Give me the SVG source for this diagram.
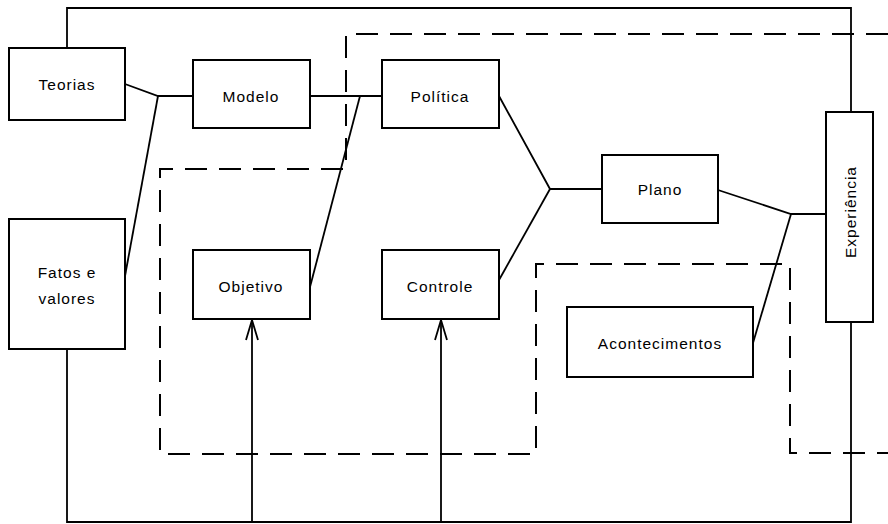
<svg xmlns="http://www.w3.org/2000/svg" width="888" height="524" viewBox="0 0 888 524">
<style>
.box{fill:#fff;stroke:#000;stroke-width:2}
.ln{fill:none;stroke:#000;stroke-width:1.8}
.dash{fill:none;stroke:#000;stroke-width:2;stroke-dasharray:22 12}
text{font-family:"Liberation Sans",Arial,sans-serif;font-size:15.5px;letter-spacing:1px;fill:#000;text-anchor:middle;dominant-baseline:central}
</style>
<defs>
<marker id="arr" markerWidth="24" markerHeight="16" refX="21" refY="8" orient="auto" markerUnits="userSpaceOnUse" viewBox="0 0 24 16">
<path d="M1,2 L21,8 L1,14" fill="none" stroke="#000" stroke-width="1.8"/>
</marker>
</defs>
<g id="regions">
<polyline class="dash" points="888,34 346,34 346,169 160,169 160,454 536,454 536,264 790,264 790,453 888,453"/>
</g>
<g id="connectors">
<polyline class="ln" points="67,48 67,8 851,8 851,112"/>
<polyline class="ln" points="67,349 67,522 851,522 851,322"/>
<polyline class="ln" points="125,84 158,96 193,96"/>
<line class="ln" x1="158" y1="96" x2="125" y2="276"/>
<line class="ln" x1="310" y1="96" x2="382" y2="96"/>
<line class="ln" x1="360" y1="96" x2="310" y2="287"/>
<polyline class="ln" points="499,96 550,189 602,189"/>
<line class="ln" x1="550" y1="189" x2="499" y2="280"/>
<polyline class="ln" points="718,190 791,214 826,214"/>
<line class="ln" x1="791" y1="214" x2="753" y2="343"/>
<line class="ln" x1="252" y1="522" x2="252" y2="320" marker-end="url(#arr)"/>
<line class="ln" x1="441" y1="522" x2="441" y2="320" marker-end="url(#arr)"/>
</g>
<g id="teorias"><rect class="box" x="9" y="48" width="116" height="72"/><text x="67" y="84">Teorias</text></g>
<g id="fatos"><rect class="box" x="9" y="219" width="116" height="130"/><text x="67" y="272">Fatos e</text><text x="67" y="298">valores</text></g>
<g id="modelo"><rect class="box" x="193" y="60" width="117" height="68"/><text x="251" y="96">Modelo</text></g>
<g id="politica"><rect class="box" x="382" y="60" width="117" height="68"/><text x="440" y="96">Política</text></g>
<g id="objetivo"><rect class="box" x="193" y="250" width="117" height="69"/><text x="251" y="286">Objetivo</text></g>
<g id="controle"><rect class="box" x="382" y="250" width="117" height="69"/><text x="440" y="286">Controle</text></g>
<g id="plano"><rect class="box" x="602" y="155" width="116" height="68"/><text x="660" y="189">Plano</text></g>
<g id="acontecimentos"><rect class="box" x="567" y="307" width="186" height="70"/><text x="660" y="343">Acontecimentos</text></g>
<g id="experiencia"><rect class="box" x="826" y="112" width="47" height="210"/><text x="850" y="212" transform="rotate(-90 850 212)">Experiência</text></g>
</svg>
